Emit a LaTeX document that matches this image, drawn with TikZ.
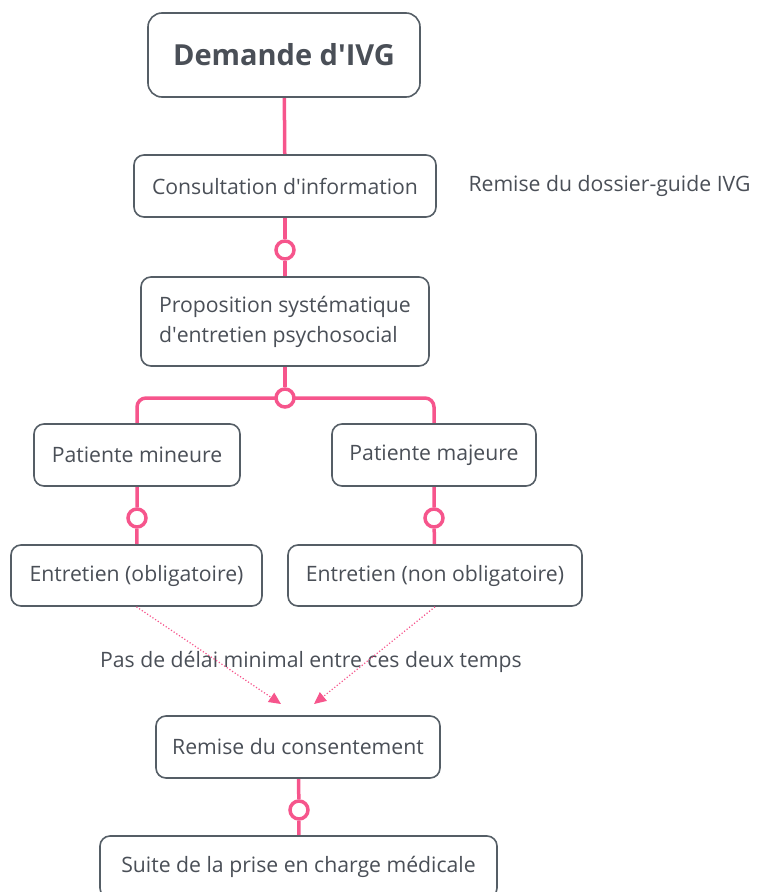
\documentclass[tikz,border=0pt]{standalone}
\usepackage{fontspec}
\setmainfont{Open Sans}
\usetikzlibrary{arrows.meta}
\definecolor{pk}{HTML}{F6558C}
\definecolor{bx}{HTML}{555E66}
\definecolor{tx}{HTML}{4A4F57}
\pgfdeclarelayer{bg}
\pgfsetlayers{bg,main}
\begin{document}
\begin{tikzpicture}[x=1pt,y=-1pt,
  box/.style={draw=bx, line width=1.6pt, rounded corners=10pt, fill=white, text=tx,
    font=\fontsize{21.2}{30}\selectfont, inner sep=0pt},
  link/.style={draw=pk, line width=3.5pt},
  dotc/.style={circle, draw=pk, line width=3.5pt, fill=white, minimum size=18pt, inner sep=0pt},
  hint/.style={draw=pk, line width=1.2pt, dotted, -{Triangle[length=12pt,width=11pt]}},
  lbl/.style={text=tx, font=\fontsize{21.2}{25}\selectfont, inner sep=0pt}]
\useasboundingbox (0,0) rectangle (756,892);
\clip (0,0) rectangle (756,892);
\node[box, minimum width=272pt, minimum height=84pt, rounded corners=14pt,
  font=\bfseries\fontsize{29}{34}\selectfont] (demande) at (284,55) {Demande d\textquotesingle IVG};
\node[box, minimum width=302pt, minimum height=62pt] (consult) at (285,186) {Consultation d\textquotesingle information};
\node[lbl] (remise) at (609.5,186) {Remise du dossier-guide IVG};
\node[dotc] (d1) at (285,250) {};
\node[box, minimum width=288pt, minimum height=89pt, align=left] (prop) at (285,321.5) {Proposition systématique\\d\textquotesingle entretien psychosocial};
\node[dotc] (d2) at (285,398) {};
\node[box, minimum width=206pt, minimum height=62pt] (mineure) at (137,455) {Patiente mineure};
\node[box, minimum width=204pt, minimum height=62pt] (majeure) at (434,455) {Patiente majeure};
\node[dotc] (d3) at (137,518) {};
\node[dotc] (d4) at (434,518) {};
\node[box, minimum width=251pt, minimum height=61pt] (oblig) at (136.5,575.5) {Entretien (obligatoire)};
\node[box, minimum width=294pt, minimum height=61pt] (nonoblig) at (435,575.5) {Entretien (non obligatoire)};
\node[lbl] (delai) at (311,662) {Pas de délai minimal entre ces deux temps};
\coordinate (a1) at (281,704);
\coordinate (a2) at (314,704);
\node[box, minimum width=284pt, minimum height=62pt] (consent) at (298,747) {Remise du consentement};
\node[dotc] (d5) at (299,810) {};
\node[box, minimum width=397pt, minimum height=62pt] (suite) at (298.5,867) {Suite de la prise en charge médicale};
\begin{pgfonlayer}{bg}
\draw[link] (demande) -- (consult);
\draw[link] (consult) -- (d1) -- (prop);
\draw[link] (prop) -- (d2);
\draw[link, rounded corners=9pt] (d2.center) -| (mineure.north);
\draw[link, rounded corners=9pt] (d2.center) -| (majeure.north);
\draw[link] (mineure) -- (d3) -- (oblig);
\draw[link] (majeure) -- (d4) -- (nonoblig);
\draw[link] (consent) -- (d5) -- (suite);
\end{pgfonlayer}
\draw[hint] (oblig.south) -- (a1);
\draw[hint] (nonoblig.south) -- (a2);
\end{tikzpicture}
\end{document}
